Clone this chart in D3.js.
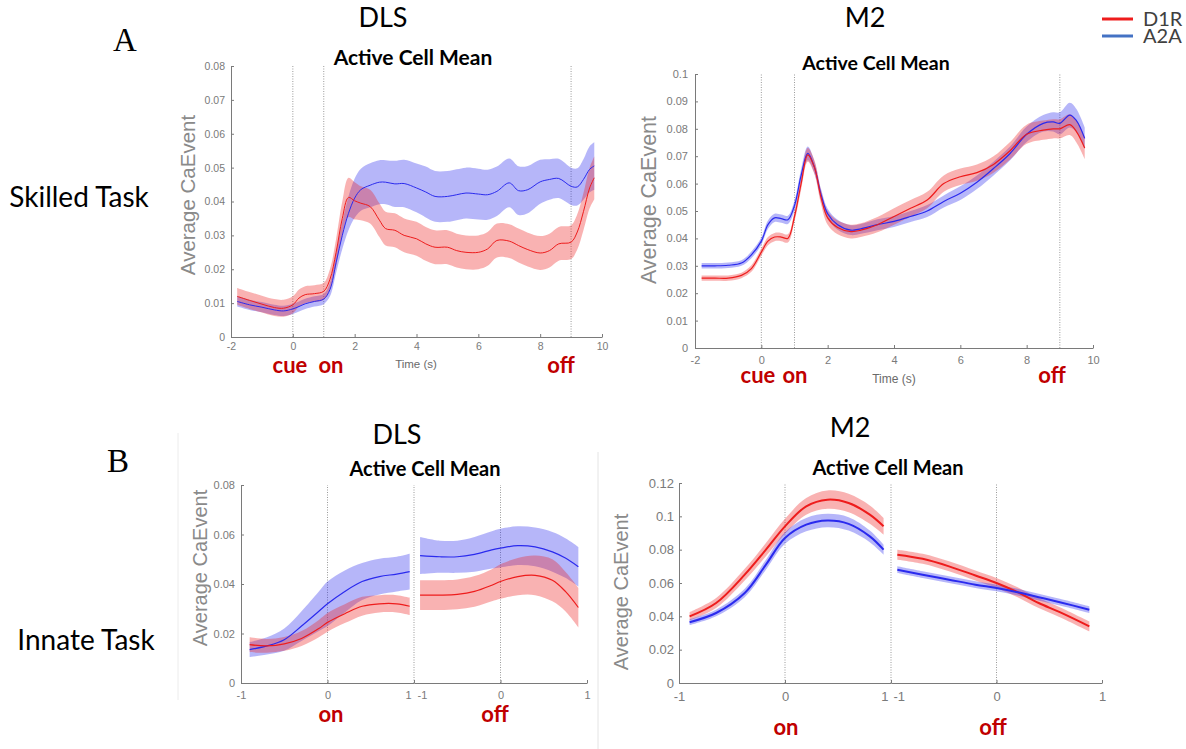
<!DOCTYPE html>
<html>
<head>
<meta charset="utf-8">
<script src="https://cdn.jsdelivr.net/npm/d3@7"></script>
<style>
  body { margin: 0; background: #fff; }
  svg { display: block; }
</style>
</head>
<body>
<script>
// ---- data ----
// A, DLS, skilled task
const dlsSkT = [-1.8,-1.4,-1,-0.6,-0.3,0,0.2,0.4,0.7,1,1.2,1.4,1.6,1.8,2,2.2,2.5,2.8,3,3.3,3.6,4,4.3,4.6,5,5.3,5.6,6,6.3,6.6,7,7.3,7.6,8,8.3,8.6,9,9.2,9.4,9.6,9.75];
const dlsSkD1R = [0.012,0.0108,0.0097,0.0087,0.0085,0.0095,0.0115,0.0125,0.0128,0.0135,0.017,0.025,0.035,0.0412,0.0402,0.0395,0.0385,0.0345,0.032,0.0315,0.030,0.029,0.0275,0.0265,0.0265,0.0255,0.025,0.025,0.026,0.0285,0.0283,0.027,0.0258,0.0248,0.0255,0.0275,0.028,0.031,0.037,0.044,0.047];
const dlsSkD1RSem = [0.0025,0.0025,0.0025,0.0025,0.0025,0.0025,0.0025,0.0025,0.0025,0.0025,0.003,0.004,0.005,0.0058,0.0055,0.005,0.005,0.005,0.005,0.005,0.005,0.005,0.005,0.005,0.005,0.005,0.005,0.005,0.005,0.005,0.005,0.005,0.005,0.005,0.005,0.005,0.005,0.0052,0.0055,0.006,0.0063];
const dlsSkA2A = [0.0105,0.0095,0.0088,0.008,0.0077,0.0083,0.009,0.0098,0.0105,0.0112,0.014,0.022,0.030,0.0365,0.041,0.0435,0.0448,0.0457,0.0457,0.0452,0.0453,0.044,0.0428,0.0415,0.0415,0.042,0.0425,0.0422,0.042,0.043,0.0455,0.0432,0.0435,0.0458,0.0465,0.0468,0.0445,0.0443,0.0465,0.0495,0.0505];
const dlsSkA2ASem = [0.0015,0.0015,0.0015,0.0015,0.0015,0.0015,0.0015,0.0015,0.0015,0.0015,0.002,0.003,0.004,0.005,0.0058,0.0062,0.0065,0.0065,0.0065,0.0068,0.007,0.0072,0.0075,0.0075,0.0075,0.0075,0.0075,0.0075,0.0074,0.0073,0.0072,0.0072,0.007,0.0065,0.006,0.0058,0.0055,0.0055,0.006,0.0068,0.007];

// A, M2, skilled task
const m2SkT = [-1.8,-1.4,-1,-0.6,-0.3,0,0.2,0.4,0.6,0.8,1,1.2,1.4,1.6,1.8,2,2.3,2.7,3,3.5,4,4.5,5,5.5,6,6.5,7,7.5,8,8.5,8.8,9,9.3,9.5,9.75];
const m2SkA2A = [0.030,0.030,0.0302,0.031,0.034,0.039,0.045,0.0475,0.0472,0.0468,0.052,0.063,0.071,0.066,0.056,0.049,0.045,0.043,0.0435,0.045,0.0462,0.048,0.050,0.0535,0.0565,0.0605,0.0655,0.071,0.078,0.082,0.0825,0.082,0.085,0.083,0.0765];
const m2SkA2ASem = [0.001,0.001,0.001,0.001,0.0012,0.0013,0.0015,0.0015,0.0015,0.0015,0.0018,0.0022,0.0025,0.0022,0.002,0.0018,0.0018,0.0018,0.0018,0.002,0.002,0.002,0.0022,0.0022,0.0025,0.0025,0.0025,0.0025,0.0028,0.003,0.0035,0.004,0.0045,0.0042,0.004];
const m2SkD1R = [0.0255,0.0255,0.0255,0.0265,0.029,0.035,0.039,0.0405,0.0405,0.040,0.048,0.060,0.0705,0.066,0.055,0.0475,0.044,0.0425,0.043,0.045,0.048,0.051,0.054,0.060,0.0625,0.064,0.067,0.072,0.078,0.0795,0.080,0.080,0.0815,0.079,0.073];
const m2SkD1RSem = [0.001,0.001,0.001,0.001,0.0012,0.0013,0.0015,0.0015,0.0015,0.0015,0.0018,0.0022,0.0025,0.0025,0.0025,0.0025,0.0025,0.0025,0.0025,0.0028,0.003,0.003,0.003,0.003,0.003,0.003,0.003,0.0032,0.0035,0.0035,0.0035,0.0035,0.0038,0.004,0.004];

// B, DLS, innate task (on / off)
const dlsOnT = [-0.9,-0.7,-0.5,-0.3,-0.1,0,0.2,0.4,0.6,0.8,0.95];
const dlsOnA2A = [0.0135,0.015,0.0175,0.023,0.029,0.032,0.037,0.041,0.043,0.044,0.045];
const dlsOnA2ASem = [0.003,0.0035,0.0045,0.006,0.008,0.009,0.0085,0.0075,0.0072,0.007,0.0072];
const dlsOnD1R = [0.0155,0.015,0.0158,0.018,0.022,0.0245,0.028,0.031,0.032,0.032,0.031];
const dlsOnD1RSem = [0.003,0.0028,0.0028,0.003,0.0035,0.0038,0.0038,0.0038,0.0035,0.0035,0.0035];
const dlsOffT = [-0.93,-0.7,-0.5,-0.3,-0.1,0,0.2,0.4,0.6,0.75,0.9];
const dlsOffA2A = [0.0515,0.051,0.051,0.052,0.0538,0.0545,0.0555,0.055,0.053,0.0505,0.047];
const dlsOffA2ASem = [0.0075,0.0065,0.0065,0.007,0.0075,0.0078,0.0078,0.0078,0.008,0.008,0.008];
const dlsOffD1R = [0.0355,0.0355,0.0358,0.037,0.0395,0.041,0.043,0.0435,0.0415,0.037,0.0305];
const dlsOffD1RSem = [0.006,0.006,0.006,0.0062,0.0065,0.007,0.0075,0.008,0.0085,0.008,0.008];

// B, M2, innate task (on / off)
const m2OnT = [-0.9,-0.65,-0.38,-0.18,0,0.2,0.4,0.6,0.8,0.93];
const m2OnD1R = [0.040,0.048,0.065,0.080,0.094,0.106,0.110,0.108,0.101,0.094];
const m2OnD1RSem = [0.0025,0.003,0.0035,0.004,0.0045,0.005,0.0055,0.0055,0.0055,0.005];
const m2OnA2A = [0.0365,0.042,0.054,0.071,0.087,0.095,0.0975,0.0955,0.088,0.080];
const m2OnA2ASem = [0.0018,0.002,0.0025,0.003,0.0035,0.004,0.004,0.004,0.0035,0.003];
const m2OffT = [-0.94,-0.7,-0.45,-0.2,0,0.2,0.4,0.6,0.88];
const m2OffD1R = [0.077,0.0745,0.070,0.0645,0.060,0.0545,0.048,0.0425,0.034];
const m2OffD1RSem = [0.003,0.003,0.003,0.003,0.003,0.003,0.003,0.003,0.003];
const m2OffA2A = [0.068,0.065,0.062,0.059,0.057,0.0545,0.0515,0.0485,0.044];
const m2OffA2ASem = [0.002,0.002,0.002,0.002,0.002,0.002,0.002,0.002,0.002];

// tick labels
const skilledXTicks = [-2,0,2,4,6,8,10];
const halfXTicks = [-1,0,1];
const seriesNames = ['D1R','A2A'];

// ---- drawing ----
const RED = '#ee1c1c', BLUE = '#2a2aee';
const CAL = 'Lato, Carlito, "Open Sans", sans-serif';
const HEL = '"Liberation Sans", Arial, sans-serif';

const svg = d3.select('body').append('svg')
  .attr('width', 1186).attr('height', 749)
  .attr('viewBox', '0 0 1186 749');

function series(t, mean, sem) {
  return t.map((d, i) => ({ t: d, m: mean[i], s: sem[i] }));
}

function drawBands(g, x, y, list) {
  const area = d3.area().curve(d3.curveCatmullRom)
    .x(d => x(d.t)).y0(d => y(d.m - d.s)).y1(d => y(d.m + d.s));
  const line = d3.line().curve(d3.curveCatmullRom).x(d => x(d.t)).y(d => y(d.m));
  list.forEach(s => {
    g.append('path').datum(s.rows).attr('d', area)
      .attr('fill', s.color).attr('fill-opacity', 0.34).attr('stroke', 'none');
  });
  list.forEach(s => {
    g.append('path').datum(s.rows).attr('d', line)
      .attr('fill', 'none').attr('stroke', s.color).attr('stroke-width', s.lw || 1.2);
  });
}

function vdot(g, xp, y) {
  g.append('line')
    .attr('x1', xp).attr('x2', xp)
    .attr('y1', y.range()[0]).attr('y2', y.range()[1])
    .attr('stroke', '#9a9a9a').attr('stroke-width', 1)
    .attr('stroke-dasharray', '1,1.5');
}

function styleAxis(ax, fs) {
  ax.select('.domain').attr('stroke', '#7a7a7a');
  ax.selectAll('.tick line').attr('stroke', '#7a7a7a');
  ax.selectAll('.tick text').attr('fill', '#7a7a7a')
    .style('font-family', HEL).style('font-size', fs + 'px');
}

const fmtY = d => String(+d.toFixed(3));

function yAxis(g, y, ticks, x0, pad, fs) {
  const ax = g.append('g').attr('transform', `translate(${x0},0)`)
    .call(d3.axisLeft(y).tickValues(ticks).tickFormat(fmtY)
      .tickSizeInner(-3).tickSizeOuter(0).tickPadding(pad));
  styleAxis(ax, fs);
}

function xAxis(g, x, ticks, y0, pad, fs) {
  const ax = g.append('g').attr('transform', `translate(0,${y0})`)
    .call(d3.axisBottom(x).tickValues(ticks).tickFormat(d => String(d))
      .tickSizeInner(-3).tickSizeOuter(0).tickPadding(pad));
  styleAxis(ax, fs);
  return ax;
}

function txt(x, y, s, o) {
  const t = svg.append('text').attr('x', x).attr('y', y).text(s)
    .style('font-family', o.font || CAL).style('font-size', o.size + 'px')
    .attr('fill', o.color || '#000').attr('text-anchor', o.anchor || 'middle');
  if (o.bold) t.style('font-weight', 700);
  if (o.rotate) t.attr('transform', `rotate(-90,${x},${y})`).attr('dominant-baseline', 'central');
  return t;
}

function redLabel(x, y, s) { txt(x, y, s, { size: 22, bold: true, color: '#c00000' }); }

// --- A: DLS skilled ---
{
  const g = svg.append('g');
  const x = d3.scaleLinear().domain([-2, 10]).range([231, 602]);
  const y = d3.scaleLinear().domain([0, 0.08]).range([337, 66]);
  [0, 1, 9].forEach(v => vdot(g, x(v), y));
  drawBands(g, x, y, [
    { rows: series(dlsSkT, dlsSkA2A, dlsSkA2ASem), color: BLUE, lw: 1 },
    { rows: series(dlsSkT, dlsSkD1R, dlsSkD1RSem), color: RED, lw: 1 }
  ]);
  yAxis(g, y, d3.range(0, 0.0801, 0.01), 231, 6, 10.5);
  xAxis(g, x, skilledXTicks, 337, 6, 10.5);
  txt(413, 65, 'Active Cell Mean', { size: 21, bold: true });
  txt(187, 195, 'Average CaEvent', { size: 20.5, font: HEL, color: '#8a8a8a', rotate: true });
  txt(416, 368, 'Time (s)', { size: 11.5, font: HEL, color: '#6a6a6a' });
  redLabel(290, 373, 'cue'); redLabel(331, 373, 'on'); redLabel(561, 373, 'off');
}

// --- A: M2 skilled ---
{
  const g = svg.append('g');
  const x = d3.scaleLinear().domain([-2, 10]).range([695, 1093]);
  const y = d3.scaleLinear().domain([0, 0.1]).range([348, 74]);
  [0, 1, 9].forEach(v => vdot(g, x(v), y));
  drawBands(g, x, y, [
    { rows: series(m2SkT, m2SkA2A, m2SkA2ASem), color: BLUE, lw: 1.2 },
    { rows: series(m2SkT, m2SkD1R, m2SkD1RSem), color: RED, lw: 1.2 }
  ]);
  yAxis(g, y, d3.range(0, 0.1001, 0.01), 695, 7, 11);
  xAxis(g, x, skilledXTicks, 348, 8, 11);
  txt(876, 70, 'Active Cell Mean', { size: 19.5, bold: true });
  txt(649, 200, 'Average CaEvent', { size: 21.5, font: HEL, color: '#8a8a8a', rotate: true });
  txt(894, 383, 'Time (s)', { size: 12, font: HEL, color: '#6a6a6a' });
  redLabel(758, 383, 'cue'); redLabel(795, 383, 'on'); redLabel(1052, 383, 'off');
}

// --- B: DLS innate ---
{
  const g = svg.append('g');
  const xOn = d3.scaleLinear().domain([-1, 1]).range([241, 414]);
  const xOff = d3.scaleLinear().domain([-1, 1]).range([414, 587]);
  const y = d3.scaleLinear().domain([0, 0.08]).range([683, 485]);
  vdot(g, xOn(0), y); vdot(g, xOn(1), y); vdot(g, xOff(0), y);
  drawBands(g, xOn, y, [
    { rows: series(dlsOnT, dlsOnA2A, dlsOnA2ASem), color: BLUE },
    { rows: series(dlsOnT, dlsOnD1R, dlsOnD1RSem), color: RED }
  ]);
  drawBands(g, xOff, y, [
    { rows: series(dlsOffT, dlsOffA2A, dlsOffA2ASem), color: BLUE },
    { rows: series(dlsOffT, dlsOffD1R, dlsOffD1RSem), color: RED }
  ]);
  yAxis(g, y, d3.range(0, 0.0801, 0.02), 241, 6, 11);
  const a1 = xAxis(g, xOn, halfXTicks, 683, 8, 11);
  const a2 = xAxis(g, xOff, halfXTicks, 683, 8, 11);
  a1.selectAll('.tick text').filter(d => d === 1).attr('text-anchor', 'end').attr('x', -3);
  a2.selectAll('.tick text').filter(d => d === -1).attr('text-anchor', 'start').attr('x', 3);
  txt(425, 476, 'Active Cell Mean', { size: 20, bold: true });
  txt(200, 568, 'Average CaEvent', { size: 20, font: HEL, color: '#8a8a8a', rotate: true });
  redLabel(331, 722, 'on'); redLabel(495, 722, 'off');
}

// --- B: M2 innate ---
{
  const g = svg.append('g');
  const xOn = d3.scaleLinear().domain([-1, 1]).range([679, 891]);
  const xOff = d3.scaleLinear().domain([-1, 1]).range([891, 1102]);
  const y = d3.scaleLinear().domain([0, 0.12]).range([683, 483]);
  vdot(g, xOn(0), y); vdot(g, xOn(1), y); vdot(g, xOff(0), y);
  drawBands(g, xOn, y, [
    { rows: series(m2OnT, m2OnD1R, m2OnD1RSem), color: RED, lw: 2 },
    { rows: series(m2OnT, m2OnA2A, m2OnA2ASem), color: BLUE, lw: 2 }
  ]);
  drawBands(g, xOff, y, [
    { rows: series(m2OffT, m2OffD1R, m2OffD1RSem), color: RED, lw: 2 },
    { rows: series(m2OffT, m2OffA2A, m2OffA2ASem), color: BLUE, lw: 2 }
  ]);
  yAxis(g, y, d3.range(0, 0.1201, 0.02), 679, 5, 13);
  const a1 = xAxis(g, xOn, halfXTicks, 683, 9, 13);
  const a2 = xAxis(g, xOff, halfXTicks, 683, 9, 13);
  a1.selectAll('.tick text').filter(d => d === 1).attr('text-anchor', 'end').attr('x', -3);
  a2.selectAll('.tick text').filter(d => d === -1).attr('text-anchor', 'start').attr('x', 2);
  txt(888, 475, 'Active Cell Mean', { size: 20, bold: true });
  txt(621, 592, 'Average CaEvent', { size: 20, font: HEL, color: '#8a8a8a', rotate: true });
  redLabel(786, 735, 'on'); redLabel(993, 735, 'off');
}

// faint panel borders in row B
svg.append('line').attr('x1', 178).attr('x2', 178).attr('y1', 433).attr('y2', 700)
  .attr('stroke', '#ececec');
svg.append('line').attr('x1', 598).attr('x2', 598).attr('y1', 452).attr('y2', 749)
  .attr('stroke', '#e4e4e4');

// headings and row labels
txt(383, 27, 'DLS', { size: 27 });
txt(865, 27, 'M2', { size: 27 });
txt(397, 444, 'DLS', { size: 27 });
txt(850, 437, 'M2', { size: 27 });
txt(125, 51, 'A', { size: 33, font: '"Liberation Serif", serif' });
txt(118, 472, 'B', { size: 33, font: '"Liberation Serif", serif' });
txt(79, 207, 'Skilled Task', { size: 28 });
txt(86, 650, 'Innate Task', { size: 28 });

// legend
const legColors = [RED, '#4472c4'];
seriesNames.forEach((name, i) => {
  const yy = 19 + i * 17;
  svg.append('line').attr('x1', 1102).attr('x2', 1133).attr('y1', yy).attr('y2', yy)
    .attr('stroke', legColors[i]).attr('stroke-width', 3);
  txt(1143, yy + 7, name, { size: 20, anchor: 'start', color: '#404040' });
});
</script>
</body>
</html>
